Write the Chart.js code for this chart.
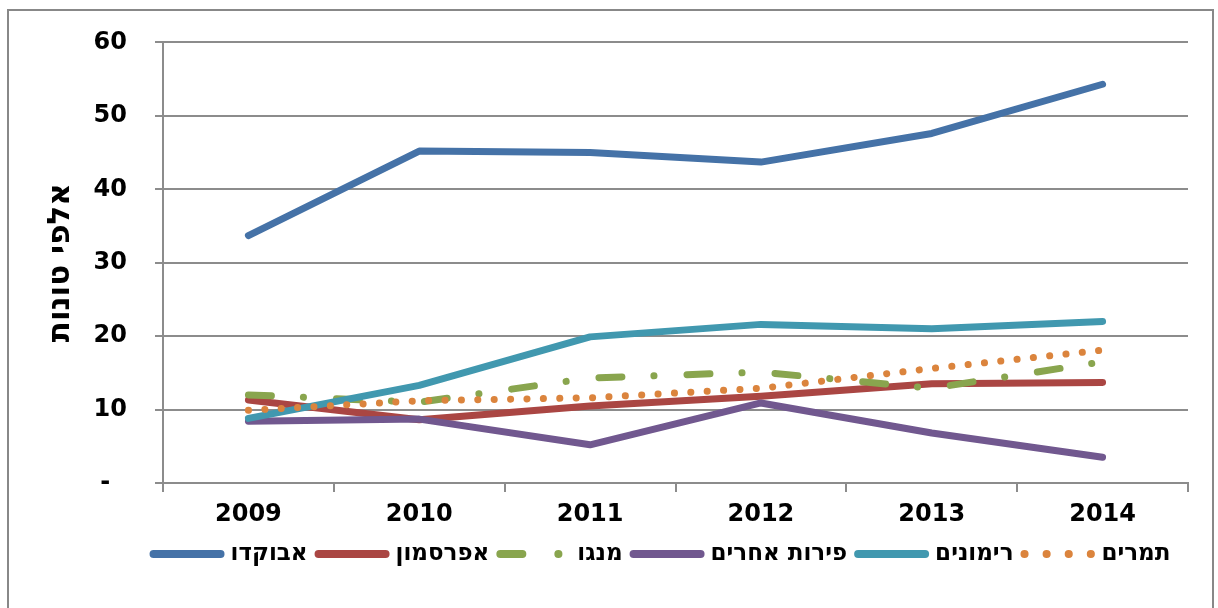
<!DOCTYPE html>
<html>
<head>
<meta charset="utf-8">
<script src="https://cdn.jsdelivr.net/npm/chart.js@4"></script>
<style>
  html, body { margin: 0; padding: 0; background: #fff; }
  #wrap { width: 1218px; height: 608px; }
</style>
</head>
<body>
<div id="wrap"><canvas id="chart"></canvas></div>
<script>
// values in thousands of tons
const years = ['2009', '2010', '2011', '2012', '2013', '2014'];
const avocado = [33.7, 45.2, 45.0, 43.7, 47.6, 54.3];
const persimmon = [11.3, 8.6, 10.5, 11.8, 13.5, 13.7];
const mango = [12.0, 11.0, 14.3, 15.1, 12.9, 16.5];
const otherFruit = [8.4, 8.7, 5.2, 10.9, 6.8, 3.5];
const pomegranates = [8.8, 13.3, 19.9, 21.6, 21.0, 22.0];
const dates = [9.9, 11.2, 11.6, 12.9, 15.6, 18.1];
const seriesNames = ['אבוקדו', 'אפרסמון', 'מנגו', 'פירות אחרים', 'רימונים', 'תמרים'];
const yTicks = [0, 10, 20, 30, 40, 50, 60];

const FONT = '"DejaVu Sans", Verdana, sans-serif';
const GRID = '#8c8c8c';

const styles = [
  { color: '#4572A7', dash: [], legendDash: [], width: 7 },
  { color: '#AA4643', dash: [], legendDash: [], width: 7 },
  { color: '#89A54E', dash: [23, 32, 0.1, 33], legendDash: [22, 36, 0.1, 40], width: 7 },
  { color: '#71588F', dash: [], legendDash: [], width: 7 },
  { color: '#4198AF', dash: [], legendDash: [], width: 7 },
  { color: '#DB843D', dash: [0.1, 16.3], legendDash: [0.1, 22], width: 7 }
];
const allSeries = [avocado, persimmon, mango, otherFruit, pomegranates, dates];

const datasets = allSeries.map((vals, i) => ({
  label: seriesNames[i],
  data: vals,
  borderColor: styles[i].color,
  backgroundColor: styles[i].color,
  borderWidth: styles[i].width,
  borderDash: styles[i].dash,
  borderCapStyle: 'round',
  borderJoinStyle: 'round',
  pointRadius: 0,
  tension: 0,
  order: allSeries.length - i // later series on top, as in the original
}));

// outer frame of the chart object
const framePlugin = {
  id: 'frame',
  beforeDraw(chart) {
    const ctx = chart.ctx;
    ctx.save();
    ctx.strokeStyle = '#888';
    ctx.lineWidth = 2;
    ctx.strokeRect(8, 10, 1205, 700);
    ctx.restore();
  }
};

// legend row under the axis: line sample then name, like the Excel original
const lineLegend = {
  id: 'lineLegend',
  afterDraw(chart) {
    const ctx = chart.ctx;
    const sets = chart.data.datasets;
    const swatch = 75, gapIn = 6, gapOut = 7;
    const y = chart.chartArea.bottom + 71;
    ctx.save();
    ctx.font = 'bold 23px ' + FONT;
    const widths = sets.map(ds => ctx.measureText(ds.label).width);
    let total = 0;
    widths.forEach(w => { total += swatch + gapIn + w; });
    total += gapOut * (sets.length - 1);
    let x = 660 - total / 2;
    sets.forEach((ds, i) => {
      ctx.beginPath();
      ctx.setLineDash(styles[i].legendDash);
      ctx.lineCap = 'round';
      ctx.lineWidth = 8;
      ctx.strokeStyle = ds.borderColor;
      ctx.moveTo(x + 4, y);
      ctx.lineTo(x + swatch - 4, y);
      ctx.stroke();
      ctx.setLineDash([]);
      ctx.fillStyle = '#000';
      ctx.textAlign = 'left';
      ctx.textBaseline = 'middle';
      ctx.fillText(ds.label, x + swatch + gapIn, y);
      x += swatch + gapIn + widths[i] + gapOut;
    });
    ctx.restore();
  }
};

new Chart(document.getElementById('chart'), {
  type: 'line',
  data: { labels: years, datasets: datasets },
  plugins: [framePlugin, lineLegend],
  options: {
    responsive: true,
    maintainAspectRatio: false,
    animation: false,
    layout: { padding: { left: 0, right: 30, top: 42, bottom: 73 } },
    plugins: {
      tooltip: { enabled: false },
      legend: { display: false }
    },
    scales: {
      x: {
        offset: true,
        grid: {
          display: true,
          offset: true,
          drawOnChartArea: false,
          drawTicks: true,
          tickLength: 9,
          color: GRID,
          lineWidth: 2
        },
        border: { display: true, color: GRID, width: 2 },
        ticks: {
          color: '#000',
          font: { family: FONT, size: 24, weight: 'bold' },
          padding: 8,
          maxRotation: 0
        },
        afterFit(scale) { scale.height = 52; }
      },
      y: {
        min: 0,
        max: 60,
        afterBuildTicks(scale) { scale.ticks = yTicks.map(v => ({ value: v })); },
        grid: { color: GRID, lineWidth: 2, tickLength: 8 },
        border: { display: true, color: GRID, width: 2 },
        ticks: {
          color: '#000',
          font: { family: FONT, size: 24, weight: 'bold' },
          padding: 28,
          callback: v => (v === 0 ? '-  ' : String(v))
        },
        title: {
          display: true,
          text: 'אלפי טונות',
          color: '#000',
          font: { family: FONT, size: 31, weight: 'bold' },
          padding: { top: 42, bottom: 0 }
        },
        afterFit(scale) { scale.width = 163; }
      }
    }
  }
});
</script>
</body>
</html>
